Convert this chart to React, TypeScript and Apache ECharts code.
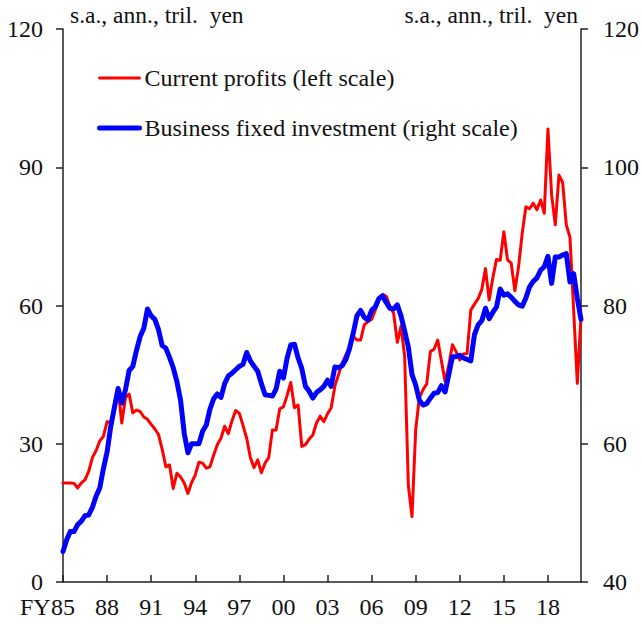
import React, { useEffect, useRef } from "react";
import * as echarts from "echarts";

const years: number[] = [];
for (let y = 1985; y <= 2020; y++) years.push(y);
const categories: string[] = [];
years.forEach((y) => {
  for (let q = 1; q <= 4; q++) categories.push("FY" + y + "Q" + q);
});
const quarters = categories.slice(0, 142);

const profits = [
  21.5, 21.5, 21.5, 21.4, 20.4, 21.5, 22.2, 24.0, 27.0, 28.5,
  30.6, 31.6, 34.8, 34.5, 37.0, 41.8, 34.5, 40.0, 40.8, 36.7,
  37.3, 37.0, 35.8, 35.3, 34.2, 33.2, 32.0, 28.8, 25.0, 25.4,
  20.3, 23.6, 22.8, 21.5, 19.2, 21.6, 23.2, 26.0, 25.8, 24.7,
  25.0, 27.5, 29.8, 31.2, 33.8, 32.2, 35.0, 37.2, 36.6, 34.0,
  31.2, 27.0, 24.8, 26.5, 23.7, 25.8, 27.0, 33.0, 33.0, 37.6,
  38.0, 40.5, 43.3, 37.8, 38.4, 29.4, 29.8, 31.0, 31.9, 34.5,
  36.0, 34.8, 36.5, 37.8, 42.5, 45.0, 47.5, 49.3, 50.8, 53.3,
  52.5, 52.5, 55.8, 56.5, 57.0, 59.0, 61.2, 62.4, 62.0, 59.8,
  58.3, 52.0, 55.5, 49.0, 21.0, 14.2, 33.0, 40.0, 41.7, 43.0,
  50.0, 50.5, 52.5, 48.0, 43.5, 47.0, 51.5, 50.0, 48.2, 49.5,
  49.6, 59.0, 60.3, 61.5, 63.5, 68.0, 61.2, 66.0, 70.0, 69.8,
  76.0, 69.9, 69.2, 63.2, 68.4, 75.7, 81.4, 81.0, 82.2, 80.8,
  82.9, 80.0, 98.3, 84.0, 77.5, 88.3, 86.7, 77.5, 74.8, 59.0,
  43.1, 57.6,
];

const investment = [
  44.4, 46.1, 47.3, 47.3, 48.3, 48.8, 49.6, 49.7, 50.8, 52.4,
  53.6, 56.4, 58.8, 62.5, 65.3, 68.0, 65.9, 67.8, 70.6, 71.2,
  73.5, 75.5, 76.7, 79.5, 78.5, 78.0, 76.5, 74.2, 73.8, 72.5,
  71.0, 69.0, 66.3, 61.5, 58.7, 60.0, 60.0, 60.0, 61.8, 62.7,
  65.0, 66.5, 67.2, 66.7, 68.7, 69.8, 70.2, 70.7, 71.2, 71.5,
  73.2, 72.0, 71.2, 70.5, 68.7, 67.1, 67.0, 66.9, 67.9, 70.5,
  69.5, 72.4, 74.3, 74.4, 72.4, 70.9, 68.3, 67.6, 66.6, 67.4,
  67.8, 68.3, 69.2, 68.3, 71.1, 71.0, 71.3, 72.2, 73.8, 76.0,
  78.5, 79.3, 78.3, 77.9, 79.3, 79.8, 81.0, 81.4, 80.4, 79.6,
  79.5, 80.1, 78.5, 76.3, 74.0, 70.0, 68.5, 66.3, 65.6, 65.8,
  66.6, 67.3, 67.4, 68.4, 67.5, 70.0, 72.6, 72.6, 72.8, 72.4,
  72.2, 72.0, 75.8, 77.2, 77.8, 79.6, 78.1, 79.0, 79.8, 82.4,
  81.5, 81.7, 81.2, 80.6, 80.1, 79.9, 81.1, 82.7, 83.5, 84.0,
  85.1, 85.6, 87.1, 83.2, 87.0, 87.0, 87.3, 87.5, 83.4, 84.6,
  81.0, 78.0,
];

const seriesNames = [
  "Current profits (left scale)",
  "Business fixed investment (right scale)",
];
const unitLabel = "s.a., ann., tril.  yen";

const FONT = "Liberation Serif, serif";
const AXIS_COLOR = "#222";
const TEXT_COLOR = "#111";

export default function App() {
  const ref = useRef<HTMLDivElement>(null);
  useEffect(() => {
    document.body.style.margin = "0";
    if (!ref.current) return;
    const chart = echarts.init(ref.current, undefined, { renderer: "svg" });
    const axisLine = { show: true, lineStyle: { color: AXIS_COLOR, width: 1.5 } };
    chart.setOption({
      animation: false,
      textStyle: { fontFamily: FONT },
      grid: { left: 63, right: 59, top: 29, bottom: 42, containLabel: false },
      legend: {
        orient: "vertical",
        left: 97,
        top: 66,
        padding: 0,
        itemGap: 26,
        itemWidth: 40,
        itemHeight: 14,
        itemStyle: { opacity: 0 },
        textStyle: { fontFamily: FONT, fontSize: 24, color: TEXT_COLOR },
        data: [
          { name: seriesNames[0], lineStyle: { width: 3 }, itemStyle: { opacity: 0 } },
          { name: seriesNames[1], lineStyle: { width: 5 }, itemStyle: { opacity: 0 } },
        ],
      },
      xAxis: {
        type: "category",
        data: quarters,
        boundaryGap: false,
        axisLine,
        axisTick: { show: true, inside: true, length: 7, interval: 11, lineStyle: { color: AXIS_COLOR, width: 1.5 } },
        axisLabel: {
          interval: 11,
          margin: 13,
          fontSize: 24,
          fontFamily: FONT,
          color: TEXT_COLOR,
          formatter: (v: string) => v.slice(4, 6),
        },
        splitLine: { show: false },
      },
      yAxis: [
        {
          type: "value",
          min: 0,
          max: 120,
          interval: 30,
          position: "left",
          name: unitLabel,
          nameLocation: "end",
          nameGap: 14,
          nameTextStyle: { fontFamily: FONT, fontSize: 23.5, color: TEXT_COLOR, align: "left", verticalAlign: "middle", padding: [0, 0, 0, 7] },
          axisLine,
          axisTick: { show: true, inside: false, length: 7, lineStyle: { color: AXIS_COLOR, width: 1.5 } },
          axisLabel: { margin: 20, fontSize: 24, fontFamily: FONT, color: TEXT_COLOR },
          splitLine: { show: false },
        },
        {
          type: "value",
          min: 40,
          max: 120,
          interval: 20,
          position: "right",
          name: unitLabel,
          nameLocation: "end",
          nameGap: 14,
          nameTextStyle: { fontFamily: FONT, fontSize: 23.5, color: TEXT_COLOR, align: "right", verticalAlign: "middle", padding: [0, 3, 0, 0] },
          axisLine,
          axisTick: { show: true, inside: false, length: 7, lineStyle: { color: AXIS_COLOR, width: 1.5 } },
          axisLabel: { margin: 22, fontSize: 24, fontFamily: FONT, color: TEXT_COLOR },
          splitLine: { show: false },
        },
      ],
      graphic: [
        {
          type: "text",
          left: 20,
          top: 595,
          style: { text: "FY", font: "24px Liberation Serif, serif", fill: TEXT_COLOR },
        },
      ],
      series: [
        {
          name: seriesNames[0],
          type: "line",
          yAxisIndex: 0,
          data: profits,
          symbol: "none",
          lineStyle: { color: "#ff0000", width: 3, cap: "round", join: "round" },
          itemStyle: { color: "#ff0000" },
          z: 2,
        },
        {
          name: seriesNames[1],
          type: "line",
          yAxisIndex: 1,
          data: investment,
          symbol: "none",
          lineStyle: { color: "#0000ff", width: 5, cap: "round", join: "round" },
          itemStyle: { color: "#0000ff" },
          z: 3,
        },
      ],
    });
    return () => chart.dispose();
  }, []);
  return <div ref={ref} style={{ width: 642, height: 624 }} />;
}
